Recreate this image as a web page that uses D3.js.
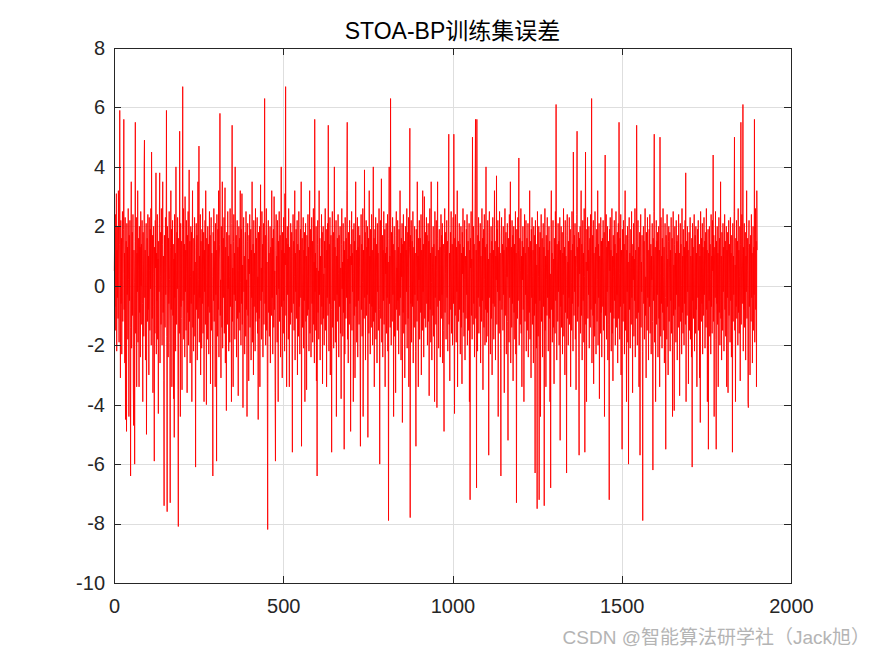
<!DOCTYPE html>
<html>
<head>
<meta charset="utf-8">
<script src="https://cdn.jsdelivr.net/npm/d3@7"></script>
<style>
  body { margin: 0; background: #fff; }
  svg { display: block; }
  text { font-family: "Liberation Sans", Arial, Helvetica, "Noto Sans CJK SC", sans-serif; }
</style>
</head>
<body>
<div id="vis-holder"></div>
<script>
// Chart text and ticks
const chartTitle = "STOA-BP训练集误差";
const watermark = "CSDN @智能算法研学社（Jack旭）";
const xTicks = [0, 500, 1000, 1500, 2000];
const yTicks = [-10, -8, -6, -4, -2, 0, 2, 4, 6, 8];

// Training-set error, one value per sample
const errors = [
  0.5, 1.8, -0.7, 2.4, -1.5, 0.9, 3.1, -2.2, 1.2, -0.4, 2.0, -1.1, 3.2, 0.3, -1.9, 1.4, 5.9, 0.8, -3.1, 2.2,
  -0.6, 1.6, -2.3, 0.9, 2.5, -1.2, 0.4, 1.9, 5.6, -0.8, 1.1, -2.6, 2.3, -4.5, 0.7, 1.5, -4.9, 2.1, -0.3, 1.3,
  -1.8, 2.6, 0.2, -4.4, 1.7, -0.5, 2.2, -1.4, -6.4, 1.0, 3.5, -2.1, 0.6, 1.8, -1.0, 2.4, -3.3, -4.7, 1.2, 0.1,
  -6.0, 1.5, 5.5, -1.6, 0.8, 2.3, -3.4, 1.1, -0.2, 3.2, -1.9, 0.5, 1.6, -3.4, 2.0, -0.9, 1.3, -2.4, 2.5, 0.0,
  1.4, -1.3, 2.2, -0.6, -3.9, 1.8, 0.7, -1.7, 4.0, 4.9, -0.4, 1.2, -2.5, 0.9, 2.1, -5.0, 0.3, 1.6, -1.2, 2.4,
  -0.8, 1.0, -3.0, 2.3, 0.5, -1.5, 1.9, -0.1, 2.6, -2.0, 4.5, 0.8, -1.1, 1.7, -3.6, 0.4, 2.0, -0.7, -5.9, 1.3,
  -1.6, 2.2, 0.6, 3.8, -2.3, 1.1, -0.5, 2.4, -1.8, 0.9, -4.3, 1.5, -0.2, 2.1, 3.8, -2.6, 0.3, 1.8, -1.3, 2.6,
  0.1, -2.0, 1.4, 3.5, -0.9, 1.0, -3.2, -7.4, 1.7, 0.4, -1.4, 2.3, -0.3, 1.2, 5.9, -1.7, -7.6, 2.0, 0.7, -2.4,
  1.6, -0.6, 2.5, 0.2, -1.9, -7.3, 1.3, 3.2, -0.8, 1.9, -3.4, 0.6, 2.2, -1.0, 1.4, -3.8, 0.9, -5.1, 2.4, -0.4,
  1.1, -2.2, 4.0, 0.5, -1.3, 1.8, -0.1, 2.3, -3.5, -8.1, 1.6, 0.2, -1.6, 5.2, 0.8, -4.4, 2.1, -0.7, 1.5, -1.1,
  -3.5, 1.9, 6.7, -0.5, 2.6, -1.8, 0.7, 1.4, -2.4, 3.0, -0.2, 1.2, -1.5, 2.2, 0.4, -3.6, 1.7, -0.9, 2.5, -2.0,
  0.9, 3.9, -1.2, 1.5, -2.6, 0.3, 2.0, -0.6, 1.8, -3.9, 1.1, 3.2, -1.4, 0.5, -2.2, 1.6, -0.3, 2.3, -1.7, 0.8,
  -6.1, 1.3, 2.1, -0.8, 1.7, -2.5, 0.6, 3.5, -1.1, 0.2, 4.7, -1.9, 1.0, -0.4, 2.4, -3.0, 1.5, 0.7, -2.1, 1.9,
  -0.6, 2.6, -1.6, 0.4, 1.8, -3.9, 1.2, -0.2, 2.2, -1.3, 3.2, 0.1, -4.0, 1.6, 0.9, -1.8, 2.0, -0.7, 1.4, -2.3,
  1.0, 2.5, -0.9, 1.7, -3.3, 0.5, 2.3, -1.5, 1.1, 0.3, -2.0, -6.4, 1.8, -0.5, 2.6, -1.2, 0.8, 1.5, -3.4, 2.1,
  -0.3, 1.2, -5.9, 2.4, 0.6, -1.7, 1.9, -0.8, 3.2, -2.4, 0.9, 1.4, 5.8, -1.0, 0.2, -3.1, 2.0, 1.1, -1.4, 3.5,
  -2.1, 0.7, 1.6, -0.4, 2.3, -1.6, 0.5, 3.3, -2.6, 1.3, -0.6, -4.2, 1.8, 0.8, -1.3, 2.5, -0.1, 1.0, -2.2, 1.7,
  0.3, -1.9, 2.6, -0.7, 1.4, 0.9, -3.9, 2.1, 5.4, -1.2, 0.6, -3.4, 1.5, 2.4, -0.3, 1.1, -1.8, 4.0, -0.5, 0.4,
  1.7, -2.4, 0.8, 2.2, -1.1, 1.3, -3.7, 0.5, 2.0, -0.9, 1.6, -1.5, 3.2, 0.1, -2.0, 1.9, -0.6, 3.1, -1.3, 0.7,
  -4.1, 1.4, 2.3, -0.2, 1.0, -2.3, 0.6, 1.8, -1.7, 2.5, -0.8, 0.2, -4.4, 1.5, 2.1, -1.0, 0.9, -3.2, 1.7, 0.4,
  2.4, -1.4, 0.7, 1.9, -2.5, 1.2, -0.4, 3.5, -1.9, 0.5, 1.4, -3.0, 2.2, -0.7, 1.1, 0.0, -2.2, 2.6, -1.2, 0.8,
  1.6, -0.9, 2.3, -1.6, 0.3, -4.5, 1.8, 0.9, -1.1, 2.0, -3.4, 1.3, 3.4, -0.5, 0.6, -1.8, 2.5, -0.2, 1.4, -2.4,
  0.7, 2.1, -1.3, 1.0, 6.3, -0.6, 1.7, -2.0, 0.4, 2.6, -1.5, 0.8, -3.3, -8.2, 1.5, 2.2, -0.9, 1.1, -1.7, 0.5,
  2.0, -2.6, 1.3, 0.2, -1.0, 3.2, -0.4, 1.6, -2.3, 0.9, 1.9, -1.4, 3.0, -0.8, 0.5, -3.6, -5.9, 1.2, 2.4, -0.3,
  1.0, -1.9, 2.2, 0.6, -3.9, 1.5, -0.1, 2.5, -1.2, 0.8, 1.7, -2.4, 0.3, 4.0, -0.7, 1.2, -3.1, 1.8, 0.4, -1.6,
  2.3, -0.5, 1.1, -2.2, 3.1, 0.7, 6.7, -1.0, 1.6, -3.4, 0.9, 2.0, -0.3, 1.4, -1.8, 2.6, 0.2, -3.4, 1.3, 0.8,
  -1.3, 2.1, 0.5, -0.9, 1.8, -2.0, -5.6, 1.0, 2.4, -0.6, 1.5, -1.5, 0.3, 3.2, -2.5, 1.1, -0.2, 1.9, -1.1, 0.6,
  2.2, -3.0, 1.4, 0.1, -1.7, 2.5, -0.7, 1.2, -2.3, 0.8, 1.9, -0.4, 3.5, -5.4, 0.9, 1.6, -1.4, 0.4, 2.3, -2.1,
  1.2, -0.5, 1.8, -3.9, 0.6, 2.1, -1.2, 1.0, -3.5, 1.7, 0.3, -1.0, 2.4, -0.8, 1.3, -2.2, 0.7, 3.2, -1.6, 0.4,
  1.9, -2.4, 0.9, 2.3, -0.6, 1.5, -1.9, 0.2, 2.6, -1.3, 0.8, -2.6, 5.6, -0.2, 1.1, -1.5, 2.0, -3.2, 0.6, -6.4,
  1.4, 2.2, -0.9, 0.5, -1.8, 3.2, -0.3, 1.6, -2.5, 1.0, 0.2, -1.3, 2.4, -0.7, 1.8, -3.3, 0.9, 2.0, -1.1, 0.4,
  -2.0, 1.5, 0.6, 2.6, -1.5, 0.3, 1.9, -3.4, 1.2, -0.4, 2.1, -1.0, 5.4, 0.7, -2.2, 1.4, -0.6, 2.3, -3.0, 0.8,
  1.7, -0.8, -5.6, 1.1, 2.5, -1.4, 0.5, 1.8, -2.1, 0.9, 4.0, -0.5, 1.3, -1.9, 0.2, 2.2, -4.4, 1.0, -0.3, 1.6,
  -1.2, 2.4, 0.4, -2.4, 1.7, -0.7, 1.1, 2.0, -1.6, 0.6, -3.8, 1.4, 2.6, -0.1, 0.8, -1.7, 2.1, -0.9, 1.5, -5.5,
  1.2, -2.3, 2.3, 0.5, -1.1, 1.6, -0.4, 3.2, 5.5, -1.8, 0.9, -2.6, 1.8, 0.2, -1.3, 2.2, -0.6, 1.0, -4.9, 1.4,
  0.7, 2.5, -1.5, 1.1, -0.2, 1.9, -3.9, 0.4, 2.1, -1.0, 1.5, -3.1, 0.8, 3.5, -0.7, 1.2, -1.9, 0.3, 2.3, -2.4,
  1.3, -0.5, 2.0, -1.3, 0.6, 1.7, -2.2, -5.4, 1.0, 2.4, -0.8, 1.4, -1.7, 0.1, 2.6, -4.4, 1.2, 0.5, -1.1, 3.9,
  -0.4, 1.8, -2.5, 0.9, 2.2, -1.0, 1.3, -0.3, 2.0, -5.1, 0.7, 1.6, -1.6, 3.2, -0.6, 1.0, -2.3, 1.9, 0.3, -1.4,
  2.4, -0.7, 1.2, -2.0, 0.5, 4.0, -1.2, 1.6, -3.4, 0.8, 1.9, -0.9, 2.3, -1.8, 0.4, 1.4, -2.6, 2.1, -0.2, 1.1,
  -1.5, 0.6, 2.6, -0.8, -6.0, 1.5, 2.2, -1.1, 0.9, 3.6, -1.9, 0.3, 1.7, -2.4, 1.2, -0.5, 2.5, -1.3, 0.7, 1.9,
  -3.4, 1.1, 0.4, 2.1, -1.6, 1.3, -0.4, 2.4, -2.2, 0.8, -7.9, 1.6, 4.0, -0.6, 1.0, -1.4, 6.3, 0.2, -2.0, 1.8,
  0.5, -1.2, 2.3, -0.3, 1.4, -4.4, 0.9, 2.0, -1.7, 1.2, 0.1, -3.6, 1.7, 2.5, -0.8, 0.6, -1.5, 2.2, -0.5, 1.3,
  -2.3, 1.9, 0.7, -1.0, 3.2, -0.4, 1.1, -2.5, 1.6, 0.3, 2.1, -4.6, 1.4, -0.9, 2.4, -1.6, 0.8, 1.5, -3.1, 0.5,
  2.0, -1.3, 1.2, -0.2, 2.6, -2.1, 0.6, 1.8, -1.1, 2.3, -3.4, 0.9, 1.3, 5.3, -7.8, 1.7, -0.6, 2.2, -1.9, 0.4,
  1.5, -0.7, 2.5, -2.6, 0.8, 1.3, -1.4, 2.0, -0.3, 1.1, -2.2, -5.4, 1.9, 0.6, -1.2, 3.5, -0.5, 1.0, -3.4, 1.6,
  0.2, 2.2, -1.8, 0.9, 1.6, -0.9, 2.4, -3.0, 1.2, 0.5, -1.5, 3.2, -0.2, 1.4, -2.4, 0.7, 3.0, -1.1, 0.3, 1.8,
  -1.4, 1.0, 2.3, -0.6, 1.7, -2.0, 0.4, 2.1, -1.2, 1.5, -3.7, 0.8, 2.6, -0.8, 1.1, -1.9, 3.5, 0.1, -2.5, 1.3,
  0.6, -1.0, 2.0, -1.7, 1.4, 0.3, -3.9, 2.5, -0.4, 1.0, -1.3, 2.2, 0.5, -4.1, 1.6, 3.5, -0.7, 1.2, -2.1, 0.8,
  1.9, -0.5, 1.3, -2.4, 0.7, 2.4, -1.1, 1.7, -0.3, 2.1, -2.6, 0.9, 1.4, -1.5, -4.9, 1.1, 2.6, -0.9, 0.4, 1.8,
  -1.8, 0.6, 2.2, -0.4, 1.5, -2.2, 0.9, 2.0, 5.1, -1.3, 1.1, -3.2, 0.5, 1.8, -0.8, 2.5, -1.6, 0.2, 1.4, -2.0,
  1.2, 2.3, -0.6, 5.1, 0.8, -4.3, 1.6, -1.0, 2.4, 0.3, -1.9, 1.3, -0.2, 3.2, -3.4, 0.9, 1.5, -1.2, 0.6, 2.1,
  -0.8, 1.4, -2.3, 0.7, 2.0, -1.4, 1.1, -3.3, 1.8, 0.4, 2.6, -0.9, 1.3, -1.7, 0.2, 2.2, -2.5, 1.0, 0.5, -1.1,
  1.9, -0.3, 2.4, -2.0, 0.8, 1.5, -1.5, 0.3, 2.1, -3.9, 1.2, -7.2, 1.6, 0.6, 2.5, -1.0, 0.9, -1.8, 5.0, 0.4,
  -1.3, 2.0, -0.6, 1.4, -2.4, 0.7, 3.5, 5.6, -1.1, 1.2, -6.8, 5.6, 0.5, -2.2, 1.7, -0.4, 2.3, -1.6, 0.9, 1.5,
  -0.7, 2.1, -2.6, 1.0, 0.3, -1.2, 2.6, -0.5, 1.6, -3.5, 0.8, 1.9, -1.4, 2.4, 0.2, -2.0, 1.3, -0.8, 4.0, -1.9,
  0.6, 1.4, -0.9, 2.2, -1.7, 0.9, -5.7, 1.8, 2.5, -0.4, 1.1, -2.3, 0.5, 2.0, -1.1, 1.5, -3.0, 0.7, 2.3, -0.6,
  1.2, -1.8, 0.4, 3.2, -0.7, 1.5, -2.5, 1.0, 0.2, 3.7, -1.3, 1.9, -0.2, 2.2, -4.4, 0.8, 1.3, -1.6, 2.5, -0.5,
  1.1, -2.1, -6.4, 1.7, 2.3, -0.8, 0.6, 1.4, -1.5, 2.0, -0.3, 1.2, -3.6, 0.9, 2.6, -1.0, 0.4, 1.8, -2.3, 1.3,
  0.3, 2.1, -1.2, -5.2, 1.6, 0.7, -1.9, 2.4, -0.4, 1.0, 3.5, -2.6, 0.5, 1.3, -1.4, 2.2, -0.6, 1.7, -3.2, 0.9,
  2.0, -0.9, 1.4, -1.8, 0.6, 2.5, -2.3, 1.1, -7.3, 1.9, 0.4, -1.1, 2.3, -0.5, 1.2, 4.3, -2.0, 0.8, 1.6, -1.3,
  0.5, 2.6, -1.6, 1.0, -3.4, 1.5, 0.2, 2.0, -0.8, 1.3, -3.9, 0.7, 2.4, -1.2, 1.1, -0.3, 2.2, -2.2, 0.9, 1.6,
  -1.5, 0.4, 2.1, -2.4, 1.3, 0.8, -0.9, 3.2, -1.8, 0.6, 1.5, -3.1, 1.9, -0.4, 2.3, -1.3, 0.3, 1.2, -2.6, 2.0,
  0.9, -1.0, 1.7, -6.3, 2.2, -0.6, 1.4, -2.1, 0.7, -7.5, 2.5, 1.0, -1.7, 0.3, 2.0, -7.2, 1.3, -0.5, 1.8, -4.4,
  1.1, 2.4, -1.2, 0.5, 1.6, -2.4, 0.9, 2.1, -0.7, 1.3, -7.4, 0.6, 2.6, -1.5, 1.0, -3.4, 1.7, 0.2, -1.0, 2.3,
  -0.4, 1.2, -2.2, 0.8, 2.0, -1.1, 1.5, -3.9, 0.4, -6.8, 1.9, 3.2, -0.8, 1.1, -1.9, 0.6, 2.2, -1.4, 0.9, -3.3,
  1.6, 0.3, -1.6, 2.5, -0.5, 6.1, 1.0, -2.5, 1.4, 0.7, -1.2, 2.1, -0.2, 1.5, -2.0, 0.9, 2.3, -5.2, 1.2, -0.7,
  2.0, -1.4, 0.6, 1.8, -2.3, 1.1, -0.3, 2.6, -1.7, 0.5, 1.3, -3.0, 2.2, -0.9, 1.0, 0.2, -6.3, 1.7, 2.4, -1.1,
  0.8, -2.0, 1.5, -0.4, 2.3, -1.3, 0.7, 1.9, -3.4, 1.2, 0.1, -1.5, 2.5, -0.6, 1.4, -2.2, 4.5, 0.9, -1.0, 1.7,
  -0.2, 2.1, -1.8, 1.0, -3.5, 0.6, 2.4, 5.2, -1.2, 1.3, -0.7, 1.8, -2.4, -5.7, 1.6, 0.4, 2.0, -1.6, 0.9, 3.2,
  -1.0, 1.4, -2.5, 0.7, 2.2, -0.5, 1.1, -1.9, 2.6, 0.3, -5.6, 1.5, 4.5, -1.3, 0.8, -3.9, 1.9, 0.5, 2.3, -1.1,
  1.2, -0.3, 2.0, -2.1, 0.9, 1.6, -1.4, 2.4, -0.8, 1.0, 6.3, -2.6, 0.6, 1.7, -1.0, 2.2, -3.3, 1.1, 0.4, -1.7,
  2.5, -0.6, 1.3, -2.3, 0.8, 1.9, -1.2, 0.2, 3.2, -2.0, 1.4, -0.4, 2.1, -3.8, 1.0, 0.5, -1.6, 2.3, -0.9, 1.5,
  -2.4, 0.9, 1.6, -0.7, 2.2, -1.5, 0.4, 1.8, -4.4, 1.1, 4.4, -1.0, 0.6, 2.4, -1.8, 1.3, -0.2, 2.0, -2.5, 0.7,
  1.5, -1.3, -7.2, 1.9, 0.5, 2.3, -0.9, 1.2, -2.2, 0.8, 2.6, -1.6, 1.0, -3.2, 1.7, 0.3, -1.1, 2.2, -0.5, 1.4,
  -2.0, 0.6, 2.5, -1.4, 1.1, -0.3, 1.8, -2.6, 0.9, 2.1, -1.1, 5.5, 0.4, -1.8, 1.6, -0.7, 2.4, -3.0, 1.2, 0.7,
  -5.5, 1.9, 0.3, -1.2, 2.2, -0.6, 1.4, -2.3, 1.0, 3.2, -1.5, 0.5, 1.7, -3.9, 1.2, -0.2, 2.0, -1.9, 0.8, -6.0,
  1.6, 2.3, -0.8, 1.1, -2.1, 0.6, 1.9, -1.3, 2.5, -0.4, 1.0, -3.6, 1.4, 0.2, 2.1, -1.7, 0.9, -0.5, 2.6, -2.4,
  1.2, 0.4, -1.1, 5.4, 1.5, -2.0, 0.7, 2.2, -0.9, 1.3, -3.4, 0.5, 1.8, -5.7, 1.0, 2.4, -1.4, 0.8, -0.2, 1.7,
  -2.2, -7.9, 1.3, 2.0, -0.6, 1.5, -1.8, 0.9, 2.6, -1.0, 0.3, -3.1, 1.8, 1.1, -1.5, 2.3, -0.4, 1.2, -2.5, 0.6,
  1.9, -0.7, 2.4, -1.6, 0.8, 1.4, -2.3, 1.0, 0.2, 2.1, -1.2, -6.2, 1.6, -0.5, 2.5, 5.1, -1.9, 0.7, 1.3, -3.9,
  0.9, 2.2, -1.3, 1.5, -0.3, 1.8, -2.4, 0.6, 2.0, -1.1, 1.2, -3.4, 5.0, 0.4, -1.7, 2.3, -0.6, 1.0, -2.1, 1.6,
  -0.9, 2.6, 0.3, -1.5, 1.3, -2.6, 0.8, 2.1, -0.4, -5.5, 1.7, 1.1, -1.8, 2.4, -0.7, 0.9, -3.0, 1.5, 2.0, -1.2,
  0.6, 1.8, -2.2, 1.2, -0.5, 2.3, -1.6, 0.4, 1.6, -4.4, 1.0, 2.5, -1.0, 0.7, -4.2, 1.4, 2.0, -0.8, 1.1, -1.9,
  2.2, -0.3, 1.5, -2.5, 0.9, 1.7, -1.4, 2.4, -0.7, 1.1, -3.7, 0.5, 2.1, -1.2, 1.4, 0.0, -2.3, 2.6, -0.9, 1.0,
  -1.6, 1.9, 0.5, -2.0, 1.3, -0.6, 2.2, -1.3, 3.8, -3.9, 0.8, 1.5, -1.0, 2.0, -0.2, 1.2, -3.3, 0.7, 1.8, -1.5,
  0.4, 2.3, -1.8, 1.0, 0.6, -2.4, 1.6, -6.1, 2.1, -0.5, 1.3, -1.1, 0.9, 2.4, -2.2, 0.3, 1.7, -1.6, 2.0, -0.8,
  1.1, -3.4, 0.7, 1.9, -0.4, 2.2, -1.5, 0.5, 1.4, -3.1, 1.0, -4.6, 2.5, 0.2, -1.2, 1.6, -0.6, 2.1, -2.3, 1.3,
  0.8, -1.0, 2.3, -0.3, 1.5, -2.1, 0.6, 1.8, -1.4, 2.6, -0.8, 1.2, -3.9, 0.4, 1.9, -5.5, 1.1, -0.5, 2.0, -1.7,
  1.4, 0.2, -2.3, 2.4, -0.7, 1.0, -1.6, 2.2, 0.5, 4.4, -1.2, 1.7, -4.4, 0.9, 1.3, -0.4, 2.5, -1.8, -5.5, 1.5,
  -0.6, 2.0, -1.3, 1.1, -3.4, 0.7, 2.3, -0.9, 1.6, -2.0, 0.3, 3.5, -1.1, 1.0, -2.5, 1.8, 0.5, -1.5, 2.1, -0.2,
  1.3, -2.2, 0.8, 2.4, -0.8, 1.5, -1.7, 0.4, 2.0, -3.4, 1.2, -0.4, 1.8, -3.6, 0.9, 2.2, -1.0, 1.4, 0.1, -1.9,
  2.3, -0.5, 1.1, -2.4, 1.7, 0.6, -5.6, 2.1, -1.2, 1.0, -0.3, 2.5, 5.0, -1.5, 0.7, -3.9, 1.6, -0.7, 2.2, -1.1,
  0.9, 1.5, -2.0, 2.6, -0.9, 1.2, -1.6, 0.3, 2.0, -3.2, 1.4, 5.5, -1.3, 0.8, 2.4, -0.6, 1.1, 6.1, -2.2, 1.3,
  -0.8, 2.1, -1.4, 0.7, 1.8, -2.5, 1.0, -0.2, 3.2, -1.1, 0.5, 1.6, -3.9, -4.1, 1.3, 2.2, -0.7, 1.4, -3.0, 0.9,
  1.7, -1.2, 2.4, -0.4, 1.1, -2.6, 0.8, 2.0, -1.5, 1.3, -0.3, 5.6, -1.9, 1.0, 2.6, -0.8, 1.5, -3.4, 3.2, 1.2
];

// Set margins and dimensions
const width = 875;
const height = 656;
const margin = { top: 48, right: 84, bottom: 73, left: 114 };
const tickLen = 7;

const svg = d3.select("#vis-holder")
    .append("svg")
    .attr("width", width)
    .attr("height", height);

svg.append("rect")
    .attr("width", width)
    .attr("height", height)
    .attr("fill", "#fff");

// Scales
const x = d3.scaleLinear()
    .domain([0, 2000])
    .range([margin.left, width - margin.right]);

const y = d3.scaleLinear()
    .domain([-10, 8])
    .range([height - margin.bottom, margin.top]);

const plotW = width - margin.left - margin.right;
const plotH = height - margin.top - margin.bottom;

// Grid lines
svg.append("g")
    .attr("class", "grid")
    .attr("transform", `translate(0,${height - margin.bottom})`)
    .call(d3.axisBottom(x).tickValues(xTicks).tickSize(-plotH).tickFormat(""))
    .call(g => g.select(".domain").remove());

svg.append("g")
    .attr("class", "grid")
    .attr("transform", `translate(${margin.left},0)`)
    .call(d3.axisLeft(y).tickValues(yTicks).tickSize(-plotW).tickFormat(""))
    .call(g => g.select(".domain").remove());

svg.selectAll(".grid line")
    .attr("stroke", "#dedede")
    .attr("stroke-width", 1)
    .attr("shape-rendering", "crispEdges");

// Error line
const line = d3.line()
    .x((d, i) => x(i + 1))
    .y(d => y(d));

svg.append("path")
    .datum(errors)
    .attr("fill", "none")
    .attr("stroke", "#ff0000")
    .attr("stroke-width", 0.9)
    .attr("d", line);

// Axes (ticks point inward, box on all four sides)
const axisColor = "#262626";
const plain = d => String(d);

svg.append("g")
    .attr("transform", `translate(0,${height - margin.bottom})`)
    .call(d3.axisBottom(x).tickValues(xTicks).tickFormat(plain)
        .tickSizeInner(-tickLen).tickSizeOuter(0).tickPadding(16))
    .attr("font-size", "20px");

svg.append("g")
    .attr("transform", `translate(${margin.left},0)`)
    .call(d3.axisLeft(y).tickValues(yTicks).tickFormat(plain)
        .tickSizeInner(-tickLen).tickSizeOuter(0).tickPadding(9))
    .attr("font-size", "20px");

svg.append("g")
    .attr("transform", `translate(0,${margin.top})`)
    .call(d3.axisTop(x).tickValues(xTicks).tickSizeInner(-tickLen).tickSizeOuter(0).tickFormat(""));

svg.append("g")
    .attr("transform", `translate(${width - margin.right},0)`)
    .call(d3.axisRight(y).tickValues(yTicks).tickSizeInner(-tickLen).tickSizeOuter(0).tickFormat(""));

svg.selectAll(".domain, .tick line")
    .filter(function() { return !this.closest(".grid"); })
    .attr("stroke", axisColor)
    .attr("stroke-width", 1)
    .attr("shape-rendering", "crispEdges");

svg.selectAll(".tick text")
    .attr("fill", axisColor)
    .attr("font-family", "'Liberation Sans', Arial, Helvetica, sans-serif");

// Title
svg.append("text")
    .attr("x", (margin.left + width - margin.right) / 2)
    .attr("y", 38.5)
    .attr("text-anchor", "middle")
    .attr("font-size", "23px")
    .attr("fill", "#000")
    .text(chartTitle);

// Watermark
svg.append("text")
    .attr("x", 870)
    .attr("y", 644)
    .attr("text-anchor", "end")
    .attr("font-size", "19px")
    .attr("fill", "#b4b4b4")
    .text(watermark);
</script>
</body>
</html>
